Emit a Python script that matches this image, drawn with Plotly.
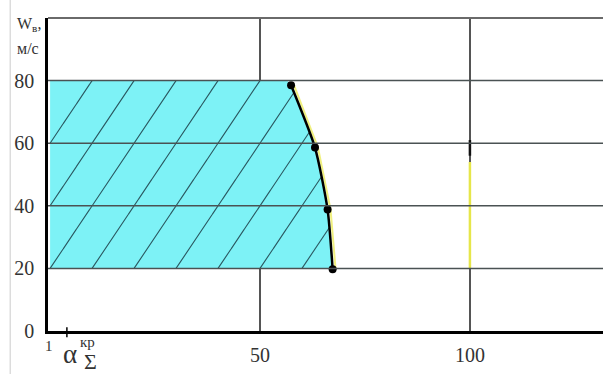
import numpy as np
import plotly.graph_objects as go

# ---- data ----
curve_x = [57.4, 63.1, 66.1, 67.3]      # critical points, alpha axis
curve_y = [78.5, 58.6, 38.8, 19.7]      # W_v, m/s
region_top = 80
region_bottom = 20
region_top_x = 56.5
hatch_offsets = [-20, -10, 0, 10, 20, 30, 40, 50, 60]
hatch_slope = 0.5                       # x units per y unit
x_ticks = [50, 100]
x_ticktext = ["50", "100"]
y_ticks = [0, 20, 40, 60, 80]
y_ticktext = ["0", "20", "40", "60", "80"]
alpha_kr = 4.0
marker_line_x = 100
yellow_span = [20, 54]
black_span = [56, 61]

CYAN = "#7df2f6"
SERIF = "Liberation Serif"

fig = go.Figure()

# cyan region
fill_x = [0, 0, region_top_x] + curve_x + [curve_x[-1], 0]
fill_y = [region_bottom, region_top, region_top] + curve_y + [region_bottom, region_bottom]
fig.add_trace(go.Scatter(x=fill_x, y=fill_y, fill="toself", fillcolor=CYAN,
                         mode="lines", line=dict(width=0), hoverinfo="skip"))

# hatching clipped to region
by_arr = np.array([region_bottom - 0.3] + curve_y[::-1] + [region_top])
bx_arr = np.array([curve_x[-1]] + curve_x[::-1] + [region_top_x])
order = np.argsort(by_arr)
hx, hy = [], []
for c in hatch_offsets:
    ys = np.linspace(region_bottom, region_top, 1201)
    xs = c + (ys - region_bottom) * hatch_slope
    right = np.interp(ys, by_arr[order], bx_arr[order])
    m = (xs >= 0) & (xs <= right)
    if m.sum() > 1:
        hx += list(xs[m]) + [None]
        hy += list(ys[m]) + [None]
fig.add_trace(go.Scatter(x=hx, y=hy, mode="lines",
                         line=dict(color="#2a5860", width=1.1), hoverinfo="skip"))

# yellow marks on x=100
fig.add_trace(go.Scatter(x=[marker_line_x, marker_line_x], y=yellow_span, mode="lines",
                         line=dict(color="#e6e64a", width=2.5), hoverinfo="skip"))
fig.add_trace(go.Scatter(x=[marker_line_x, marker_line_x], y=black_span, mode="lines",
                         line=dict(color="#111", width=2.5), hoverinfo="skip"))

# yellow shade along the curve
fig.add_trace(go.Scatter(x=[v + 0.7 for v in curve_x], y=curve_y, mode="lines",
                         line=dict(color="#eded60", width=2), opacity=0.8, hoverinfo="skip"))

# boundary curve
fig.add_trace(go.Scatter(x=curve_x, y=curve_y, mode="lines+markers",
                         line=dict(color="black", width=2.5, shape="spline", smoothing=0.6),
                         marker=dict(color="black", size=8)))

shapes = []
for v in y_ticks[1:]:
    shapes.append(dict(type="line", xref="paper", x0=0, x1=1, yref="y", y0=v, y1=v,
                       line=dict(color="#4a5253", width=1.5), layer="above"))
# top frame
shapes.append(dict(type="line", xref="paper", x0=0, x1=1, yref="paper", y0=1, y1=1,
                   line=dict(color="#6a6a6a", width=2), layer="above"))
# alpha tick mark
shapes.append(dict(type="line", xref="x", x0=alpha_kr, x1=alpha_kr, yref="paper", y0=-0.02, y1=0.012,
                   line=dict(color="black", width=1.5), layer="above"))
# light page border at left
shapes.append(dict(type="line", xref="paper", x0=-0.068, x1=-0.068, yref="paper", y0=-0.14, y1=1.06,
                   line=dict(color="#dcdcdc", width=1.5), layer="below"))

annotations = [
    dict(x=0.002, y=-0.048, text="1", font=dict(size=15)),
    dict(x=0.040, y=-0.073, text="α", font=dict(size=27)),
    dict(x=0.071, y=-0.035, text="кр", font=dict(size=15)),
    dict(x=0.077, y=-0.096, text="Σ", font=dict(size=22)),
    dict(x=-0.034, y=0.979, text="W<sub>в</sub>,", font=dict(size=16)),
    dict(x=-0.036, y=0.904, text="м/с", font=dict(size=16)),
]
for a in annotations:
    a.update(xref="paper", yref="paper", showarrow=False, xanchor="center", yanchor="middle")
    a["font"].update(family=SERIF, color="#333")

fig.update_layout(
    width=603, height=374,
    margin=dict(l=48, r=0, t=18, b=43),
    paper_bgcolor="white", plot_bgcolor="white",
    showlegend=False,
    shapes=shapes, annotations=annotations,
    xaxis=dict(range=[-0.5, 131.7], tickvals=x_ticks, ticktext=x_ticktext,
               showgrid=True, gridcolor="#555", gridwidth=1.5, zeroline=False,
               showline=True, linecolor="black", linewidth=2.5, ticks="",
               tickfont=dict(family=SERIF, size=20, color="#333"), ticklabelstandoff=4),
    yaxis=dict(range=[0, 100], tickvals=y_ticks, ticktext=y_ticktext,
               showgrid=False, zeroline=False,
               showline=True, linecolor="black", linewidth=2.5, ticks="",
               tickfont=dict(family=SERIF, size=20, color="#333"), ticklabelstandoff=7),
)

fig.write_html("out.html", config={"displayModeBar": False},
               post_script="document.body.style.margin='0';document.body.style.overflow='hidden';")
